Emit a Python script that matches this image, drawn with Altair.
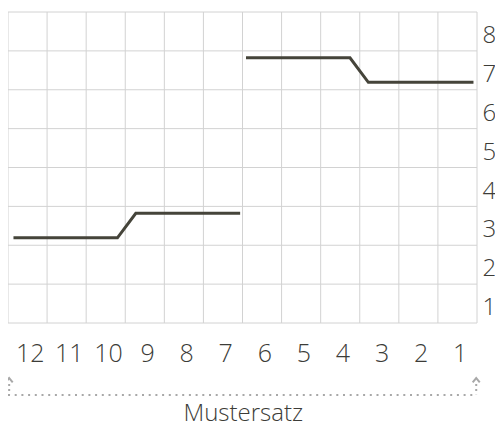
import altair as alt
import pandas as pd

# pattern chart: 12 stitches x 8 rows
cols = list(range(12, 0, -1))        # x labels left->right
rows = list(range(1, 9))             # y labels bottom->top
n_cols = 12
n_rows = 8

# step lines (x in column units from left edge, y in row units from bottom)
seg1_x = [0.14, 2.80, 3.27, 5.94]
seg1_y = [2.19, 2.19, 2.82, 2.82]
seg2_x = [6.09, 8.75, 9.22, 11.91]
seg2_y = [6.82, 6.82, 6.19, 6.19]

caption = "Mustersatz"

GRID = "#d2d2d2"
INK = "#45443a"
TXT = "#3c3c38"
DOT = "#a8a8a8"
FONT = "Open Sans"

xs = alt.Scale(domain=[0, n_cols], range=[0, 469], nice=False, zero=False)
ys = alt.Scale(domain=[0, n_rows], range=[315, 4], nice=False, zero=False)

def X(f="x"):
    return alt.X(f"{f}:Q", scale=xs, axis=None)

def Y(f="y"):
    return alt.Y(f"{f}:Q", scale=ys, axis=None)

vgrid = pd.DataFrame({"x": list(range(n_cols + 1))})
vgrid["y"] = 0
vgrid["y2"] = n_rows
hgrid = pd.DataFrame({"y": list(range(n_rows + 1))})
hgrid["x"] = 0
hgrid["x2"] = n_cols

vrules = alt.Chart(vgrid).mark_rule(color=GRID, strokeWidth=1).encode(
    x=X(), y=Y(), y2="y2:Q")
hrules = alt.Chart(hgrid).mark_rule(color=GRID, strokeWidth=1).encode(
    y=Y(), x=X(), x2="x2:Q")

lines_df = pd.DataFrame({
    "x": seg1_x + seg2_x,
    "y": seg1_y + seg2_y,
    "seg": ["a"] * 4 + ["b"] * 4,
    "i": list(range(4)) + list(range(4)),
})
lines = alt.Chart(lines_df).mark_line(color=INK, strokeWidth=3, strokeJoin="miter").encode(
    x=X(), y=Y(), detail="seg:N", order="i:Q")

xlab_df = pd.DataFrame({"label": [str(c) for c in cols],
                        "x": [i + 0.57 for i in range(n_cols)],
                        "y": [-1.0] * n_cols})
xlabels = alt.Chart(xlab_df).mark_text(
    font=FONT, fontSize=25, fontWeight=300, color=TXT, align="center",
    baseline="alphabetic").encode(x=X(), y=Y(), text="label:N")

ylab_df = pd.DataFrame({"label": [str(r) for r in rows],
                        "x": [12.14] * n_rows,
                        "y": [r - 1 + 0.2 for r in rows]})
ylabels = alt.Chart(ylab_df).mark_text(
    font=FONT, fontSize=24, fontWeight=300, color=TXT, align="left",
    baseline="alphabetic").encode(x=X(), y=Y(), text="label:N")

# repeat bracket
hdot = pd.DataFrame({"x": [0], "x2": [n_cols], "y": [-1.85]})
hdots = alt.Chart(hdot).mark_rule(color=DOT, strokeWidth=2, strokeDash=[2, 4.7]).encode(
    x=X(), x2="x2:Q", y=Y())
vdot = pd.DataFrame({"x": [0.03, 11.98], "y": [-1.57, -1.57], "y2": [-1.83, -1.83]})
vdots = alt.Chart(vdot).mark_rule(color=DOT, strokeWidth=2, strokeDash=[2, 3]).encode(
    x=X(), y=Y(), y2="y2:Q")
arr = pd.DataFrame({"x": [0.03, 11.98], "y": [-1.47, -1.47]})
arrows = alt.Chart(arr).mark_point(
    shape="M-1,0.6L0,-0.6L1,0.6", size=50, filled=False, color=DOT, strokeWidth=2,
    opacity=1).encode(x=X(), y=Y())

cap_df = pd.DataFrame({"label": [caption], "x": [6.02], "y": [-2.52]})
cap = alt.Chart(cap_df).mark_text(
    font=FONT, fontSize=24, fontWeight=300, color=TXT, align="center",
    baseline="alphabetic").encode(x=X(), y=Y(), text="label:N")

chart = alt.layer(vrules, hrules, lines, xlabels, ylabels, hdots, vdots, arrows, cap).properties(
    width=487, height=420,
    autosize=alt.AutoSizeParams(type="none"),
    padding={"left": 0, "top": 0, "right": 0, "bottom": 0},
).configure_view(stroke=None)

chart.save("out.html", embed_options={"renderer": "svg", "actions": False})
